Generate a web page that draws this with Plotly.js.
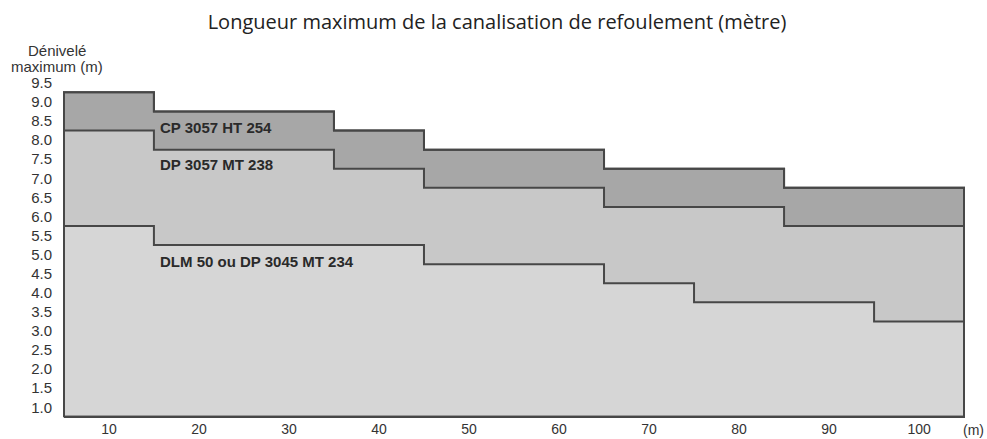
<!DOCTYPE html>
<html>
<head>
<meta charset="utf-8">
<script src="https://cdn.plot.ly/plotly-3.0.1.min.js"></script>
<style>html,body{margin:0;padding:0;background:#fff;}#chart{width:987px;height:439px;}</style>
</head>
<body>
<div id="chart"></div>
<script>
// Step start positions along the pipe length (m); last segment ends at stepEnd
const stepStarts = [5, 15, 25, 35, 45, 55, 65, 75, 85, 95];
const stepEnd = 105;
const baseHeight = 0.75;
const cpValues  = [9.25, 8.75, 8.75, 8.25, 7.75, 7.75, 7.25, 7.25, 6.75, 6.75];
const dpValues  = [8.25, 7.75, 7.75, 7.25, 6.75, 6.75, 6.25, 6.25, 5.75, 5.75];
const dlmValues = [5.75, 5.25, 5.25, 5.25, 4.75, 4.75, 4.25, 3.75, 3.75, 3.25];
const seriesNames = ['CP 3057 HT 254', 'DP 3057 MT 238', 'DLM 50 ou DP 3045 MT 234'];
const xTicks = [10, 20, 30, 40, 50, 60, 70, 80, 90, 100];
const yTicks = [1.0, 1.5, 2.0, 2.5, 3.0, 3.5, 4.0, 4.5, 5.0, 5.5, 6.0, 6.5, 7.0, 7.5, 8.0, 8.5, 9.0, 9.5];

function polygon(vals) {
  const x = [stepStarts[0]], y = [baseHeight];
  stepStarts.forEach((s, i) => { x.push(s); y.push(vals[i]); });
  x.push(stepEnd); y.push(vals[vals.length - 1]);
  x.push(stepEnd); y.push(baseHeight);
  x.push(stepStarts[0]); y.push(baseHeight);
  return {x, y};
}

const fills = ['#a7a7a7', '#c8c8c8', '#d6d6d6'];
const lineColor = '#474747';
const allVals = [cpValues, dpValues, dlmValues];

const traces = allVals.map((v, i) => {
  const p = polygon(v);
  return {
    x: p.x, y: p.y, type: 'scatter', mode: 'lines', name: seriesNames[i],
    line: {shape: 'hv', color: lineColor, width: 2},
    fill: 'toself', fillcolor: fills[i], hoverinfo: 'skip'
  };
});
// outer outline redrawn on top
const outer = polygon(cpValues);
traces.push({x: outer.x, y: outer.y, type: 'scatter', mode: 'lines',
  line: {shape: 'hv', color: lineColor, width: 2}, hoverinfo: 'skip'});

const FONT = 'Liberation Sans, Arial, sans-serif';
const labelY = [8.34, 7.35, 4.81];
const annotations = seriesNames.map((n, i) => ({
  x: 15.5, y: labelY[i], xref: 'x', yref: 'y', text: '<b>' + n + '</b>',
  showarrow: false, xanchor: 'left', yanchor: 'middle',
  font: {family: FONT, size: 15, color: '#2a2a2a'}
}));
annotations.push({
  x: -0.0067, y: (418 - 51) / 339, xref: 'paper', yref: 'paper', text: 'Dénivelé',
  showarrow: false, xanchor: 'center', yanchor: 'middle',
  font: {family: FONT, size: 15, color: '#333'}
});
annotations.push({
  x: -0.0072, y: (418 - 67) / 339, xref: 'paper', yref: 'paper', text: 'maximum (m)',
  showarrow: false, xanchor: 'center', yanchor: 'middle',
  font: {family: FONT, size: 15, color: '#333'}
});
annotations.push({
  x: (986 - 63) / 902, y: (418 - 430) / 339, xref: 'paper', yref: 'paper', text: '(m)',
  showarrow: false, xanchor: 'right', yanchor: 'middle',
  font: {family: FONT, size: 14, color: '#333'}
});

const layout = {
  width: 987, height: 439,
  margin: {l: 63, r: 22, t: 79, b: 21},
  paper_bgcolor: '#fff', plot_bgcolor: '#fff',
  showlegend: false,
  title: {text: 'Longueur maximum de la canalisation de refoulement (mètre)',
    x: 497 / 987, xanchor: 'center', y: 1 - 22 / 439, yanchor: 'middle', yref: 'container',
    font: {family: 'Open Sans, sans-serif', size: 20, color: '#222'}},
  xaxis: {range: [4.9, 105.1], tickvals: xTicks, ticktext: xTicks.map(String),
    showgrid: false, zeroline: false, showline: false, ticks: '', ticklabelstandoff: 1,
    tickfont: {family: FONT, size: 14, color: '#333'}},
  yaxis: {range: [0.72, 9.6], tickvals: yTicks, ticktext: yTicks.map(v => v.toFixed(1)),
    showgrid: false, zeroline: false, showline: false, ticks: '', ticklabelstandoff: 10,
    tickfont: {family: FONT, size: 15, color: '#333'}},
  annotations: annotations
};

Plotly.newPlot('chart', traces, layout, {displayModeBar: false, staticPlot: true});
</script>
</body>
</html>
